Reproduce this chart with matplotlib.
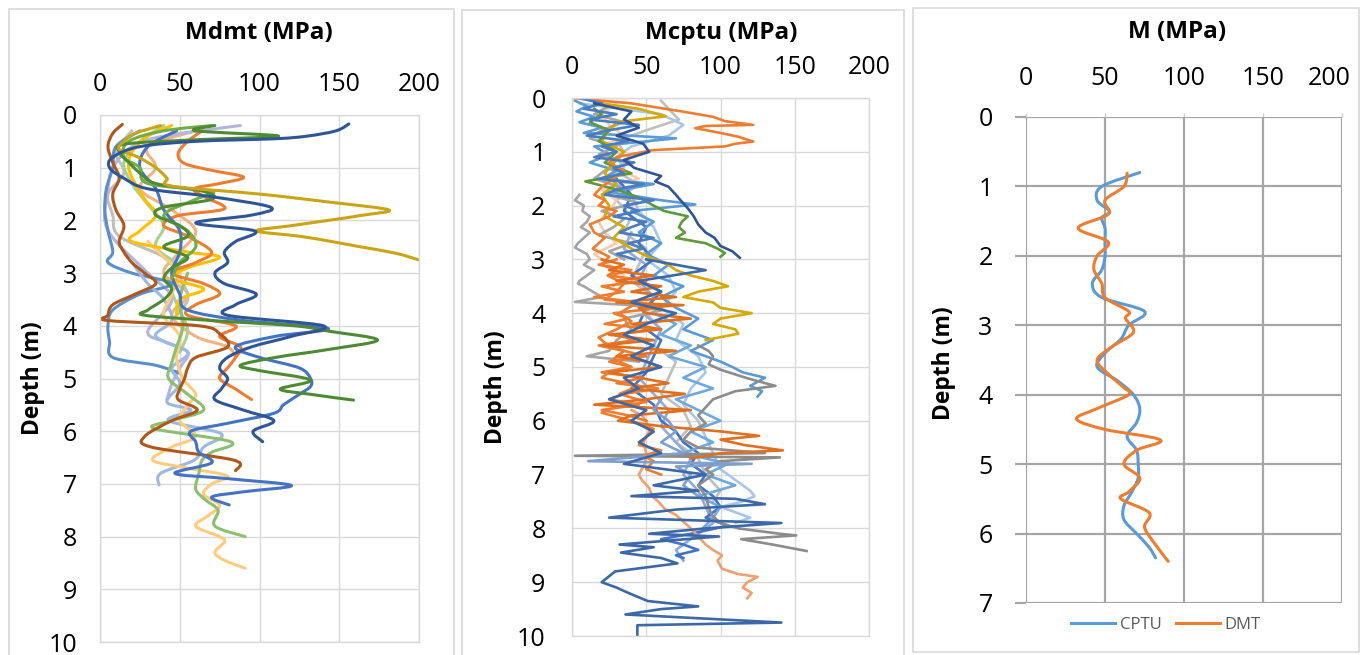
import matplotlib.pyplot as plt
from matplotlib.patches import Rectangle, PathPatch
from matplotlib.path import Path
from matplotlib.lines import Line2D
from matplotlib.transforms import ScaledTranslation

plt.rcParams['font.family'] = ['Open Sans', 'DejaVu Sans']

W, H = 1364, 655

# ---------------- Mdmt profiles (depth m, modulus MPa) ----------------
dmt_darkblue_d = [0.17, 0.3, 0.4, 0.45, 0.5, 0.6, 0.8, 1.0, 1.2, 1.4, 1.55, 1.75, 1.9, 2.05, 2.2, 2.4, 2.6, 2.8, 3.0, 3.2,
                  3.4, 3.6, 3.8, 4.0, 4.2, 4.4, 4.6, 4.8, 5.0, 5.2, 5.4, 5.6, 5.8, 6.0, 6.2]
dmt_darkblue_m = [156, 148, 130, 110, 60, 25, 8, 6, 15, 30, 70, 107, 95, 60, 97, 85, 78, 80, 72, 78,
                  98, 85, 80, 140, 120, 95, 80, 75, 80, 76, 72, 90, 109, 96, 102]
dmt_gold_d = [0.2, 0.35, 0.5, 0.65, 0.8, 1.0, 1.2, 1.35, 1.5, 1.65, 1.8, 1.9, 2.0, 2.1, 2.2, 2.3, 2.4, 2.5, 2.62, 2.75]
dmt_gold_m = [38, 22, 15, 12, 24, 35, 42, 45, 100, 143, 181, 165, 143, 120, 98, 125, 145, 163, 185, 200]
dmt_orange_d = [0.3, 0.5, 0.73, 0.92, 1.05, 1.18, 1.3, 1.4, 1.56, 1.78, 1.91, 2.1, 2.3, 2.6, 2.8, 3.0, 3.2, 3.4, 3.6, 3.8,
                4.0, 4.2, 4.4, 4.6, 4.8, 5.0, 5.2, 5.4]
dmt_orange_m = [64, 55, 49, 53, 70, 90, 75, 59, 66, 78, 49, 40, 55, 70, 60, 45, 65, 75, 60, 55,
                85, 75, 88, 85, 80, 75, 85, 95]
dmt_green_d = [0.2, 0.3, 0.4, 0.47, 0.55, 0.7, 0.9, 1.1, 1.3, 1.45, 1.6, 1.75, 1.9, 2.1, 2.3, 2.5, 2.7, 2.9, 3.1, 3.3,
               3.5, 3.7, 3.8, 3.9, 4.0, 4.1, 4.27, 4.45, 4.6, 4.75, 4.85, 5.03, 5.2, 5.3, 5.41]
dmt_green_m = [72, 60, 112, 60, 16, 12, 18, 25, 35, 65, 70, 40, 35, 50, 55, 40, 55, 45, 40, 45,
               40, 30, 28, 70, 122, 143, 174, 143, 110, 88, 100, 132, 113, 132, 159]
dmt_peach_d = [2.4, 2.7, 3.0, 3.4, 3.8, 4.2, 4.6, 5.0, 5.3, 5.5, 5.8, 6.1, 6.3, 6.55, 6.7, 6.85, 7.0, 7.2, 7.4, 7.6,
               7.8, 8.0, 8.1, 8.3, 8.45, 8.6]
dmt_peach_m = [30, 40, 50, 45, 40, 50, 48, 52, 60, 55, 50, 60, 45, 33, 55, 80, 70, 65, 75, 68,
               60, 75, 78, 72, 78, 91]
dmt_midgreen_d = [3.0, 3.5, 4.0, 4.4, 4.7, 5.0, 5.3, 5.6, 5.8, 5.95, 6.2, 6.4, 6.55, 6.8, 7.1, 7.3, 7.5, 7.8, 8.0]
dmt_midgreen_m = [55, 50, 52, 48, 45, 43, 55, 65, 45, 34, 82, 70, 64, 62, 60, 66, 74, 72, 91]
dmt_brown_d = [0.18, 0.35, 0.6, 0.9, 1.2, 1.5, 1.8, 2.1, 2.4, 2.6, 2.8, 3.0, 3.2, 3.4, 3.6, 3.8, 3.9, 4.0, 4.15, 4.4,
               4.6, 4.8, 5.0, 5.2, 5.4, 5.6, 5.8, 6.1, 6.3, 6.55, 6.75]
dmt_brown_m = [14, 8, 5, 8, 12, 8, 10, 15, 12, 15, 20, 28, 35, 22, 8, 5, 5, 62, 75, 80,
               60, 55, 53, 50, 49, 61, 45, 28, 32, 84, 85]
dmt_paleblue_d = [2.8, 3.2, 3.5, 3.9, 4.2, 4.5, 4.8, 5.1, 5.45, 5.6, 5.8, 6.05, 6.3, 6.55, 6.8, 7.02]
dmt_paleblue_m = [20, 30, 40, 45, 35, 55, 45, 50, 42, 57, 43, 76, 65, 59, 38, 37]
dmt_blue_d = [0.3, 0.6, 1.0, 1.4, 1.8, 2.2, 2.6, 3.0, 3.4, 3.7, 3.9, 4.05, 4.2, 4.4, 4.6, 4.8, 5.0, 5.15, 5.3, 5.5,
              5.66, 5.85, 6.0, 6.2, 6.4, 6.6, 6.8, 6.9, 7.03, 7.15, 7.25, 7.4]
dmt_blue_m = [48, 30, 25, 35, 40, 50, 50, 45, 50, 55, 90, 143, 110, 85, 100, 125, 132, 132, 125, 115,
              109, 80, 57, 60, 62, 70, 47, 80, 120, 90, 70, 81]
dmt_steel_d = [0.3, 0.6, 1.0, 1.4, 1.8, 2.2, 2.6, 2.8, 3.0, 3.2, 3.4, 3.7, 4.0, 4.3, 4.6, 4.75, 4.9]
dmt_steel_m = [25, 10, 8, 4, 3, 5, 8, 5, 20, 45, 25, 8, 5, 6, 8, 35, 50]
dmt_lilac_d = [0.2, 0.4, 0.6, 1.0, 1.4, 2.0, 2.4, 3.0, 3.5, 4.1, 4.3, 4.5, 4.8, 5.1, 5.4]
dmt_lilac_m = [88, 40, 20, 8, 5, 3, 10, 30, 45, 30, 40, 55, 50, 45, 42]
dmt_lightgreen_d = [0.2, 0.5, 0.9, 1.3, 1.7, 2.1, 2.5, 2.9, 3.3, 3.7, 4.1, 4.5]
dmt_lightgreen_m = [40, 25, 15, 20, 30, 40, 35, 50, 45, 50, 55, 50]
dmt_yellow_d = [0.2, 0.4, 0.7, 1.0, 1.3, 1.6, 1.9, 2.2, 2.4, 2.6, 2.7, 2.9, 3.1, 3.3, 3.5, 3.8]
dmt_yellow_m = [45, 30, 20, 18, 22, 28, 35, 25, 20, 55, 75, 55, 45, 65, 50, 48]
dmt_gray_d = [0.3, 0.7, 1.1, 1.5, 1.9, 2.3, 2.7, 3.1, 3.5, 3.9]
dmt_gray_m = [20, 10, 15, 5, 8, 12, 40, 50, 55, 45]
dmt_salmon_d = [0.3, 0.6, 1.0, 1.4, 1.8, 2.2, 2.6, 3.0, 3.4, 3.8, 4.2, 4.4, 4.6]
dmt_salmon_m = [60, 30, 35, 25, 45, 60, 50, 40, 55, 45, 60, 80, 85]
dmt_green2_d = [0.2, 0.3, 0.5, 0.8, 1.0, 1.3, 1.45, 1.6, 1.9, 2.2, 2.5, 2.8, 3.1]
dmt_green2_m = [70, 40, 18, 15, 25, 30, 70, 60, 40, 55, 60, 50, 45]

dmt_series = [
    (dmt_salmon_d, dmt_salmon_m, '#F4B183'),
    (dmt_gray_d, dmt_gray_m, '#BFBFBF'),
    (dmt_lightgreen_d, dmt_lightgreen_m, '#A9D18E'),
    (dmt_lilac_d, dmt_lilac_m, '#B4B4DC'),
    (dmt_steel_d, dmt_steel_m, '#5B8FC9'),
    (dmt_paleblue_d, dmt_paleblue_m, '#9DB9E0'),
    (dmt_peach_d, dmt_peach_m, '#FFCB7D'),
    (dmt_midgreen_d, dmt_midgreen_m, '#8CBF6E'),
    (dmt_yellow_d, dmt_yellow_m, '#FFC000'),
    (dmt_orange_d, dmt_orange_m, '#ED7D31'),
    (dmt_brown_d, dmt_brown_m, '#B0581B'),
    (dmt_blue_d, dmt_blue_m, '#4472C4'),
    (dmt_green2_d, dmt_green2_m, '#70AD47'),
    (dmt_green_d, dmt_green_m, '#4E8A34'),
    (dmt_gold_d, dmt_gold_m, '#C9A415'),
    (dmt_darkblue_d, dmt_darkblue_m, '#2F5597'),
]

# ---------------- Mcptu profiles ----------------
cptu_orange_d = [0.0, 0.1, 0.25, 0.35, 0.43, 0.5, 0.52, 0.56, 0.65, 0.72, 0.81, 0.85, 0.9, 0.97, 1.1, 1.2, 1.35, 1.5, 1.65, 1.8,
                 1.9, 2.0, 2.1, 2.2, 2.35, 2.5, 2.6, 2.7, 2.8, 2.95, 3.1, 3.2, 3.3, 3.45, 3.6, 3.75, 3.8, 3.9, 4.0, 4.15,
                 4.3, 4.45, 4.55, 4.7, 4.85, 5.0, 5.1, 5.2, 5.35, 5.5, 5.65, 5.75, 5.85, 6.0, 6.15, 6.3, 6.45, 6.55, 6.65, 6.75,
                 6.9, 7.0]
cptu_orange_m = [0, 40, 74, 95, 103, 122, 90, 83, 100, 112, 122, 110, 103, 54, 30, 25, 35, 28, 20, 15,
                 22, 18, 30, 25, 12, 15, 22, 18, 14, 25, 20, 30, 24, 35, 30, 22, 45, 38, 32, 40,
                 30, 18, 22, 35, 28, 40, 25, 20, 45, 32, 50, 28, 20, 40, 55, 50, 45, 60, 48, 55,
                 50, 60]
cptu_darkorange_d = [3.0, 3.1, 3.2, 3.3, 3.4, 3.5, 3.6, 3.7, 3.8, 3.85, 3.9, 4.0, 4.1, 4.2, 4.3, 4.4, 4.5, 4.6, 4.7, 4.8,
                     4.9, 5.0, 5.1, 5.2, 5.3, 5.4, 5.5, 5.6, 5.7, 5.8, 5.9, 6.0, 6.1, 6.2, 6.28, 6.35, 6.45, 6.55, 6.6, 6.7]
cptu_darkorange_m = [20, 35, 25, 55, 30, 60, 40, 70, 30, 75, 45, 50, 80, 40, 60, 25, 55, 20, 70, 30,
                     50, 60, 25, 45, 65, 40, 76, 50, 15, 80, 40, 31, 60, 101, 126, 100, 116, 142, 101, 80]
cptu_orange2_d = [3.0, 3.1, 3.2, 3.3, 3.4, 3.5, 3.6, 3.7, 3.8, 3.9, 4.0, 4.1, 4.2, 4.3, 4.4, 4.5, 4.6, 4.7, 4.8, 4.9,
                  5.0, 5.1, 5.2, 5.3, 5.4, 5.5, 5.6, 5.7, 5.8, 5.9, 6.0]
cptu_orange2_m = [30, 18, 40, 25, 50, 20, 35, 15, 45, 60, 28, 38, 22, 55, 30, 42, 18, 35, 50, 25,
                  40, 20, 48, 30, 58, 35, 25, 45, 20, 38, 50]
cptu_salmon_d = [5.8, 5.9, 6.0, 6.2, 6.4, 6.6, 6.8, 7.0, 7.1, 7.25, 7.4, 7.5, 7.65, 7.75, 7.85, 8.0, 8.15, 8.3, 8.4, 8.5,
                 8.6, 8.75, 8.85, 8.9, 9.0, 9.1, 9.2, 9.3]
cptu_salmon_m = [40, 47, 50, 52, 48, 50, 49, 45, 47, 52, 54, 58, 63, 70, 74, 80, 85, 90, 95, 101,
                 98, 101, 112, 125, 118, 115, 121, 118]
cptu_gray_d = [1.8, 1.9, 2.0, 2.1, 2.2, 2.3, 2.4, 2.5, 2.6, 2.7, 2.78, 2.9, 3.0, 3.1, 3.2, 3.3, 3.4, 3.45, 3.5, 3.6,
               3.7, 3.79, 3.85, 3.95, 4.1, 4.3, 4.5, 4.7, 4.8, 4.9]
cptu_gray_m = [5, 2, 8, 7, 12, 10, 6, 12, 8, 4, 2, 10, 12, 8, 15, 10, 5, 4, 8, 14,
               20, 2, 40, 60, 35, 40, 30, 25, 10, 45]
cptu_gray2_d = [0.0, 0.15, 0.3, 0.45, 0.6, 0.75, 0.9, 1.05, 1.2, 1.35, 1.5, 1.65, 1.8, 1.95, 2.1, 2.25, 2.4, 2.55, 2.7, 2.85,
                3.0]
cptu_gray2_m = [10, 25, 15, 35, 20, 12, 30, 18, 40, 22, 15, 32, 25, 45, 20, 35, 28, 18, 40, 25,
                35]
cptu_darkgray_d = [4.6, 4.7, 4.8, 4.95, 5.05, 5.2, 5.3, 5.35, 5.45, 5.6, 5.75, 5.9, 6.05, 6.2, 6.35, 6.5, 6.6, 6.65, 6.68, 6.75,
                   6.9, 7.0, 7.2, 7.4, 7.6, 7.75, 7.9, 8.0, 8.1, 8.13, 8.2, 8.3, 8.42]
cptu_darkgray_m = [85, 92, 95, 92, 100, 117, 130, 137, 110, 95, 90, 85, 90, 80, 75, 85, 130, 2, 140, 100,
                   90, 95, 85, 90, 92, 94, 100, 112, 140, 151, 114, 135, 158]
cptu_gold_d = [0.1, 0.2, 0.34, 0.45, 0.6, 0.8, 1.0, 1.2, 1.4, 1.6, 1.8, 2.0, 2.2, 2.4, 2.6, 2.8, 3.0, 3.1, 3.2, 3.3,
               3.4, 3.5, 3.6, 3.7, 3.8, 3.9, 4.0, 4.1, 4.2, 4.3, 4.38, 4.5]
cptu_gold_m = [20, 45, 63, 30, 25, 20, 35, 28, 22, 30, 20, 25, 22, 35, 28, 40, 55, 65, 70, 80,
               95, 105, 85, 75, 95, 100, 121, 100, 95, 110, 112, 90]
cptu_green_d = [0.2, 0.3, 0.45, 0.6, 0.8, 1.0, 1.2, 1.4, 1.55, 1.7, 1.85, 2.0, 2.1, 2.2, 2.3, 2.4, 2.5, 2.6, 2.7, 2.8,
                2.88, 2.95]
cptu_green_m = [15, 20, 12, 25, 18, 30, 22, 40, 9, 30, 45, 55, 62, 78, 74, 72, 76, 70, 90, 98,
                103, 100]
cptu_navy_d = [0.1, 0.25, 0.4, 0.55, 0.7, 0.85, 1.0, 1.15, 1.3, 1.45, 1.55, 1.65, 1.8, 1.93, 2.05, 2.2, 2.35, 2.5, 2.6, 2.75,
               2.85, 2.97]
cptu_navy_m = [15, 40, 35, 45, 30, 48, 52, 35, 42, 60, 56, 65, 70, 74, 78, 82, 85, 90, 96, 100,
               108, 113]
cptu_deep_d = [3.0, 3.2, 3.4, 3.6, 3.8, 4.0, 4.2, 4.4, 4.6, 4.8, 5.0, 5.2, 5.4, 5.6, 5.8, 6.0, 6.2, 6.4, 6.6, 6.8,
               7.0, 7.2, 7.3, 7.4, 7.45, 7.55, 7.65, 7.8, 7.9, 8.0, 8.1, 8.15, 8.3, 8.35, 8.45, 8.55, 8.65, 8.8, 9.0, 9.1,
               9.2, 9.35, 9.45, 9.5, 9.6, 9.75, 9.8, 9.85, 10.0]
cptu_deep_m = [50, 90, 45, 60, 40, 70, 50, 35, 55, 40, 60, 35, 45, 25, 50, 40, 55, 45, 60, 35,
               90, 55, 85, 40, 110, 130, 70, 25, 141, 90, 52, 99, 32, 55, 33, 60, 71, 29, 20, 30,
               38, 51, 85, 60, 36, 141, 44, 44, 44]
cptu_blue2_d = [0.0, 0.1, 0.2, 0.3, 0.4, 0.5, 0.6, 0.7, 0.8, 0.9, 1.0, 1.1, 1.2, 1.3, 1.4, 1.5, 1.6, 1.7, 1.8, 1.9,
                2.0, 2.1, 2.2, 2.3, 2.4, 2.5, 2.6, 2.7, 2.8, 2.9, 3.0]
cptu_blue2_m = [5, 20, 8, 30, 12, 45, 25, 10, 38, 20, 30, 15, 42, 28, 35, 18, 48, 30, 22, 55,
                35, 45, 28, 50, 40, 32, 55, 38, 48, 30, 42]
cptu_lightblue_d = [0.05, 0.15, 0.25, 0.35, 0.45, 0.55, 0.65, 0.75, 0.9, 1.05, 1.2, 1.35, 1.5, 1.6, 1.75, 1.9, 1.98, 2.1, 2.3, 2.5,
                    2.7, 2.9, 3.1, 3.3, 3.5, 3.7, 3.9, 4.1, 4.3, 4.5, 4.7, 4.9, 5.0, 5.1, 5.2, 5.35, 5.45, 5.55]
cptu_lightblue_m = [2, 10, 3, 15, 5, 20, 8, 70, 15, 25, 12, 30, 20, 55, 25, 60, 83, 40, 55, 45,
                    60, 50, 65, 55, 75, 60, 70, 85, 75, 95, 80, 100, 108, 115, 130, 120, 128, 125]
cptu_lblue2_d = [4.0, 4.2, 4.4, 4.6, 4.8, 5.0, 5.2, 5.4, 5.6, 5.8, 6.0, 6.2, 6.4, 6.6, 6.8, 7.0, 7.2, 7.4, 7.6, 7.8,
                 8.0]
cptu_lblue2_m = [55, 70, 60, 80, 65, 90, 75, 95, 70, 85, 100, 80, 95, 75, 105, 90, 110, 85, 100, 95,
                 88]
cptu_pale_d = [0.1, 0.3, 0.5, 0.7, 0.9, 1.1, 1.3, 1.5, 1.8, 2.1, 2.4, 2.7, 3.0, 3.3, 3.6, 3.9, 4.2, 4.5, 4.8, 5.1,
               5.4, 5.7, 6.0, 6.3, 6.6, 6.9, 7.1, 7.3, 7.4, 7.5, 7.6, 7.8, 7.9]
cptu_pale_m = [5, 60, 75, 65, 40, 30, 35, 25, 40, 45, 55, 60, 50, 65, 70, 60, 75, 70, 85, 90,
               80, 75, 85, 90, 95, 100, 110, 120, 123, 115, 100, 120, 110]
cptu_steel_d = [1.5, 1.8, 2.1, 2.4, 2.7, 3.0, 3.3, 3.6, 3.9, 4.2, 4.5, 4.8, 5.1, 5.4, 5.7, 6.0, 6.2, 6.4, 6.6, 6.8,
                7.0, 7.2, 7.4, 7.6, 7.8, 7.95, 8.1, 8.2, 8.3, 8.4, 8.5, 8.55]
cptu_steel_m = [30, 40, 35, 50, 45, 55, 40, 60, 50, 45, 60, 55, 50, 40, 55, 60, 70, 75, 85, 80,
                90, 85, 95, 100, 90, 105, 80, 60, 75, 85, 70, 75]
cptu_silver_d = [0.05, 0.2, 0.4, 0.6, 0.8, 1.0, 1.3, 1.6, 1.9, 2.2, 2.5, 2.8, 3.1, 3.4, 3.7, 4.0, 4.3, 4.6, 4.9, 5.2,
                 5.5, 5.8, 6.1, 6.4, 6.7, 7.0, 7.3, 7.5]
cptu_silver_m = [60, 65, 72, 50, 30, 35, 25, 45, 30, 40, 35, 50, 45, 40, 55, 50, 60, 55, 70, 65,
                 60, 75, 80, 70, 85, 90, 100, 95]
cptu_lavender_d = [2.5, 2.8, 3.1, 3.4, 3.7, 4.0, 4.3, 4.6, 4.9, 5.2, 5.5, 5.8, 6.1, 6.4, 6.7, 7.0, 7.3, 7.6, 7.9, 8.2,
                   8.4, 8.6]
cptu_lavender_m = [40, 35, 50, 45, 55, 48, 60, 55, 50, 45, 55, 65, 60, 70, 80, 75, 85, 90, 95, 80,
                   70, 75]
cptu_peach_d = [0.1, 0.3, 0.5, 0.7, 0.9, 1.1, 1.3, 1.5, 1.7, 1.9, 2.1, 2.3, 2.5, 2.7, 2.9, 3.1, 3.3, 3.5]
cptu_peach_m = [30, 20, 25, 35, 20, 40, 30, 45, 20, 30, 25, 18, 22, 30, 15, 25, 35, 28]
cptu_slate_d = [5.6, 5.8, 6.0, 6.2, 6.4, 6.6, 6.75, 6.8, 6.85, 7.0, 7.2, 7.4]
cptu_slate_m = [60, 55, 65, 70, 60, 75, 11, 121, 70, 80, 75, 85]

cptu_series = [
    (cptu_silver_d, cptu_silver_m, '#BFBFBF'),
    (cptu_peach_d, cptu_peach_m, '#F8CBAD'),
    (cptu_pale_d, cptu_pale_m, '#A9C6E8'),
    (cptu_lavender_d, cptu_lavender_m, '#8FAADC'),
    (cptu_steel_d, cptu_steel_m, '#4472C4'),
    (cptu_lblue2_d, cptu_lblue2_m, '#6FA8DC'),
    (cptu_lightblue_d, cptu_lightblue_m, '#5B9BD5'),
    (cptu_gray2_d, cptu_gray2_m, '#A5A5A5'),
    (cptu_gray_d, cptu_gray_m, '#A5A5A5'),
    (cptu_darkgray_d, cptu_darkgray_m, '#8C8C8C'),
    (cptu_gold_d, cptu_gold_m, '#D4A900'),
    (cptu_green_d, cptu_green_m, '#5C9A3A'),
    (cptu_salmon_d, cptu_salmon_m, '#F0A070'),
    (cptu_orange_d, cptu_orange_m, '#ED7D31'),
    (cptu_orange2_d, cptu_orange2_m, '#ED7D31'),
    (cptu_darkorange_d, cptu_darkorange_m, '#E0701F'),
    (cptu_blue2_d, cptu_blue2_m, '#4A7CC0'),
    (cptu_slate_d, cptu_slate_m, '#7F9FCF'),
    (cptu_navy_d, cptu_navy_m, '#2F5597'),
    (cptu_deep_d, cptu_deep_m, '#3D68A8'),
]

# ---------------- Average profiles ----------------
avg_cptu_d = [0.8, 1.0, 1.2, 1.36, 1.45, 1.6, 1.8, 2.0, 2.2, 2.4, 2.6, 2.8, 3.0, 3.2, 3.4, 3.6, 3.8, 4.0, 4.2, 4.4,
              4.6, 4.8, 5.0, 5.2, 5.4, 5.6, 5.8, 6.0, 6.2, 6.35]
avg_cptu_m = [72, 48, 45, 53, 48, 50, 50, 50, 48, 42, 48, 75, 65, 60, 50, 45, 58, 68, 72, 70,
              64, 70, 71, 71, 67, 62, 62, 70, 78, 82]
avg_dmt_d = [0.81, 1.0, 1.2, 1.4, 1.6, 1.8, 2.0, 2.2, 2.4, 2.6, 2.8, 2.9, 3.1, 3.3, 3.5, 3.7, 3.9, 4.0, 4.2, 4.35,
             4.5, 4.65, 4.8, 5.0, 5.2, 5.4, 5.5, 5.7, 5.9, 6.1, 6.4]
avg_dmt_m = [64, 62, 50, 52, 33, 52, 45, 43, 48, 50, 65, 63, 68, 55, 45, 52, 62, 65, 45, 32,
             50, 85, 70, 62, 72, 65, 60, 78, 75, 80, 90]

x_ticks = [0, 50, 100, 150, 200]


def px_axes(fig, x0, y0, x1, y1):
    return fig.add_axes([x0 / W, 1 - y1 / H, (x1 - x0) / W, (y1 - y0) / H])


def style_light(ax, ymax, xpad, ypad):
    ax.set_xlim(0, 200)
    ax.set_ylim(ymax, 0)
    ax.xaxis.tick_top()
    ax.set_xticks(x_ticks)
    ax.set_yticks(range(ymax + 1))
    ax.grid(True, color='#D9D9D9', lw=1)
    ax.set_axisbelow(True)
    for s in ax.spines.values():
        s.set_color('#D9D9D9')
        s.set_linewidth(1)
    ax.tick_params(axis='x', length=0, pad=xpad, labelsize=18, colors='#000000')
    ax.tick_params(axis='y', length=0, pad=ypad, labelsize=18, colors='#000000')


def smooth_line(ax, m, d, color, lw):
    # Excel style "smoothed line": Bezier segments through the read points
    pts = list(zip(m, d))
    verts = [pts[0]]
    codes = [Path.MOVETO]
    for i in range(len(pts) - 1):
        p0 = pts[i - 1] if i > 0 else pts[i]
        p1, p2 = pts[i], pts[i + 1]
        p3 = pts[i + 2] if i + 2 < len(pts) else p2
        c1 = (p1[0] + (p2[0] - p0[0]) / 6, p1[1] + (p2[1] - p0[1]) / 6)
        c2 = (p2[0] - (p3[0] - p1[0]) / 6, p2[1] - (p3[1] - p1[1]) / 6)
        verts += [c1, c2, p2]
        codes += [Path.CURVE4] * 3
    ax.add_patch(PathPatch(Path(verts, codes), fill=False, edgecolor=color, lw=lw,
                           capstyle='round', joinstyle='round'))


fig = plt.figure(figsize=(W / 100, H / 100), dpi=100)

# panel frames
for (x0, y0, x1, y1) in [(9, 9, 454, 660), (462, 10, 904, 660), (913, 8, 1359, 652)]:
    fig.patches.append(Rectangle((x0 / W, 1 - y1 / H), (x1 - x0) / W, (y1 - y0) / H,
                                 transform=fig.transFigure, fill=False, ec='#D9D9D9', lw=1.2))

ax1 = px_axes(fig, 100, 115, 419, 642)
style_light(ax1, 10, 13, 16.5)
for d, m, c in dmt_series:
    n = min(len(d), len(m))
    smooth_line(ax1, m[:n], d[:n], c, 2.2)

ax2 = px_axes(fig, 572, 98, 869, 636)
style_light(ax2, 10, 13, 19)
for d, m, c in cptu_series:
    n = min(len(d), len(m))
    ax2.plot(m[:n], d[:n], color=c, lw=1.9, solid_joinstyle='round')

ax3 = px_axes(fig, 1026, 117, 1342, 603)
ax3.set_xlim(0, 200)
ax3.set_ylim(7, 0)
ax3.xaxis.tick_top()
ax3.set_xticks(x_ticks)
ax3.set_yticks(range(8))
ax3.grid(True, color='#A6A6A6', lw=1.6)
ax3.set_axisbelow(True)
for s in ax3.spines.values():
    s.set_visible(False)
ax3.tick_params(axis='x', length=3, width=1, color='#D0D0D0', pad=16, labelsize=18)
ax3.tick_params(axis='y', length=8, width=1.6, color='#A6A6A6', pad=16, labelsize=18)
# Excel pulls the last category label inside the chart area
last = ax3.xaxis.get_major_ticks()[-1].label2
last.set_transform(last.get_transform() + ScaledTranslation(-0.13, 0, fig.dpi_scale_trans))
smooth_line(ax3, avg_cptu_m, avg_cptu_d, '#5B9BD5', 2.2)
smooth_line(ax3, avg_dmt_m, avg_dmt_d, '#ED7D31', 2.2)
fig.legend(handles=[Line2D([], [], color='#5B9BD5', lw=2.2), Line2D([], [], color='#ED7D31', lw=2.2)],
           labels=['CPTU', 'DMT'], loc='center', bbox_to_anchor=(1166 / W, 1 - 625 / H), ncol=2,
           frameon=False, fontsize=12, labelcolor='#595959', handlelength=2.6, handletextpad=0.3,
           columnspacing=0.9)

# titles and axis labels
for x, y, t in [(259, 33, 'Mdmt (MPa)'), (721, 33, 'Mcptu (MPa)'), (1177, 32, 'M (MPa)')]:
    fig.text(x / W, 1 - y / H, t, ha='center', va='center', fontsize=17.5, fontweight='bold')
for x, y in [(33, 378), (496, 387), (944, 363)]:
    fig.text(x / W, 1 - y / H, 'Depth (m)', ha='center', va='center', rotation=90,
             fontsize=16.5, fontweight='bold')

fig.savefig('out.png', dpi=100)
